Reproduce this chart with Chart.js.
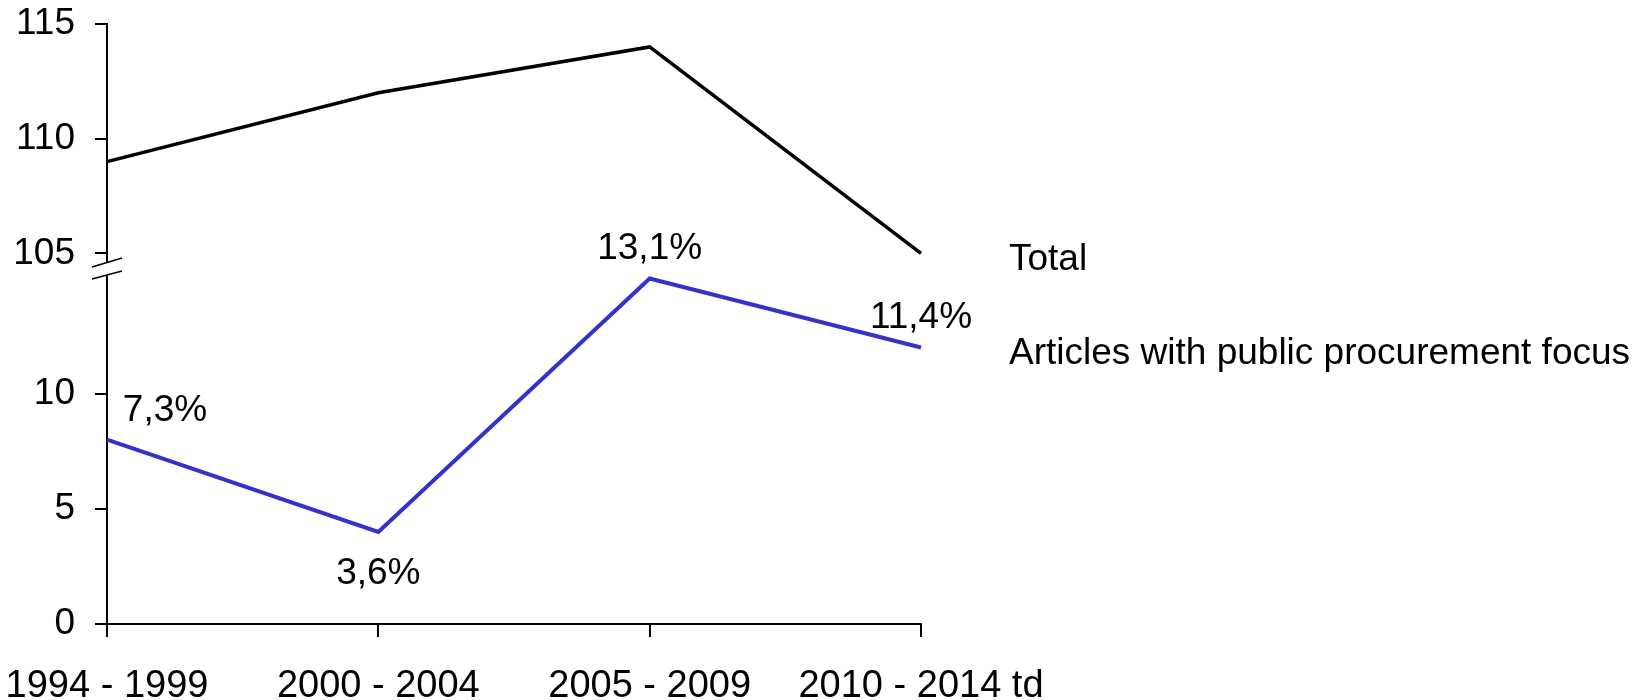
<!DOCTYPE html>
<html>
<head>
<meta charset="utf-8">
<script src="https://cdn.jsdelivr.net/npm/chart.js@4.4.1/dist/chart.umd.min.js"></script>
<style>
    body { margin: 0; background: #fff; }
    #wrap { width: 1639px; height: 700px; }
</style>
</head>
<body>
<div id="wrap"><canvas id="chartLine"></canvas></div>
<script>
const periods = ['1994 - 1999', '2000 - 2004', '2005 - 2009', '2010 - 2014 td'];
const totalArticles = [109, 112, 114, 105];
const procurementArticles = [8, 4, 15, 12];
const shareLabels = ['7,3%', '3,6%', '13,1%', '11,4%'];
const seriesNames = ['Total', 'Articles with public procurement focus'];
const topTicks = [105, 110, 115];
const bottomTicks = [0, 5, 10];

const FONT = '"Liberation Sans", Arial, sans-serif';

// where each share label sits relative to its point
const labelOffsets = [[58, -29], [0, 42], [0, -30], [0, -30]];

const annotate = {
    id: 'annotate',
    afterDatasetsDraw(chart) {
        const ctx = chart.ctx;
        const area = chart.chartArea;
        ctx.save();
        ctx.fillStyle = '#000';
        ctx.font = '37px ' + FONT;
        ctx.textAlign = 'center';
        ctx.textBaseline = 'middle';
        chart.getDatasetMeta(1).data.forEach((p, i) => {
            ctx.fillText(shareLabels[i], p.x + labelOffsets[i][0], p.y + labelOffsets[i][1]);
        });

        // series names next to the line ends
        ctx.textAlign = 'left';
        chart.data.datasets.forEach((ds, i) => {
            const pts = chart.getDatasetMeta(i).data;
            const last = pts[pts.length - 1];
            ctx.fillText(ds.label, area.right + 88, last.y + 6);
        });

        // axis break marks
        const x = area.left;
        const y = chart.scales.yTop.bottom;
        ctx.fillStyle = '#fff';
        ctx.beginPath();
        ctx.moveTo(x - 15, y - 2);
        ctx.lineTo(x + 15, y - 11);
        ctx.lineTo(x + 15, y + 2);
        ctx.lineTo(x - 15, y + 10);
        ctx.closePath();
        ctx.fill();
        ctx.strokeStyle = '#000';
        ctx.lineWidth = 1.5;
        ctx.beginPath();
        ctx.moveTo(x - 15, y - 2);
        ctx.lineTo(x + 15, y - 11);
        ctx.moveTo(x - 15, y + 10);
        ctx.lineTo(x + 15, y + 2);
        ctx.stroke();
        ctx.restore();
    }
};

const yCommon = {
    position: 'left',
    stack: 'v',
    offset: false,
    border: { color: '#000', width: 2 },
    grid: { drawOnChartArea: false, drawTicks: true, tickLength: 12, color: '#000', lineWidth: 2 },
    ticks: { color: '#000', padding: 20, font: { family: FONT, size: 37 } },
    afterFit: s => { s.width = 107; s.paddingTop = 0; s.paddingBottom = 0; }
};

new Chart(document.getElementById('chartLine'), {
    type: 'line',
    data: {
        labels: periods,
        datasets: [{
            label: seriesNames[0],
            data: totalArticles,
            yAxisID: 'yTop',
            borderColor: '#000',
            borderWidth: 3.5,
            pointRadius: 0,
            tension: 0
        }, {
            label: seriesNames[1],
            data: procurementArticles,
            yAxisID: 'yBot',
            borderColor: '#3333cc',
            borderWidth: 4,
            pointRadius: 0,
            tension: 0
        }]
    },
    options: {
        responsive: true,
        maintainAspectRatio: false,
        animation: false,
        layout: { padding: { top: 24, right: 718, left: 0, bottom: 0 } },
        plugins: { legend: { display: false }, tooltip: { enabled: false } },
        scales: {
            x: {
                type: 'category',
                offset: false,
                border: { color: '#000', width: 2 },
                grid: { drawOnChartArea: false, drawTicks: true, tickLength: 13, color: '#000', lineWidth: 2 },
                ticks: { color: '#000', padding: 27, maxRotation: 0, autoSkip: false, font: { family: FONT, size: 38 } },
                afterFit: s => { s.height = 76; s.paddingLeft = 0; s.paddingRight = 0; }
            },
            yBot: Object.assign({}, yCommon, {
                min: 0,
                max: 15.41,
                stackWeight: 355,
                afterBuildTicks: s => { s.ticks = bottomTicks.map(v => ({ value: v })); }
            }),
            yTop: Object.assign({}, yCommon, {
                min: 104.32,
                max: 115,
                stackWeight: 245,
                afterBuildTicks: s => { s.ticks = topTicks.map(v => ({ value: v })); }
            })
        }
    },
    plugins: [annotate]
});
</script>
</body>
</html>
